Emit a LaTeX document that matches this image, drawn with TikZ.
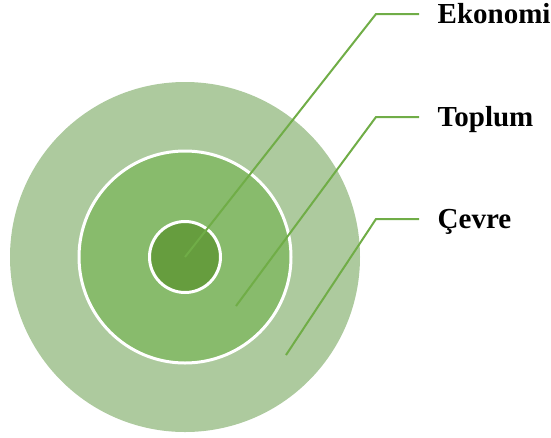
\documentclass[tikz,border=0pt]{standalone}
\usepackage{fontspec}
\setmainfont{Liberation Serif}
\definecolor{outergreen}{RGB}{173,202,158}
\definecolor{midgreen}{RGB}{136,187,108}
\definecolor{innergreen}{RGB}{102,157,62}
\definecolor{leadgreen}{RGB}{112,173,71}
\tikzset{ring/.style = {draw=white, line width=3pt}}
\tikzset{lead/.style = {draw=leadgreen, line width=2pt}}
\tikzset{tag/.style = {anchor=west, inner xsep=18.5pt, inner ysep=0pt, text height=19pt, text depth=0pt,
                       font=\fontsize{29}{30}\selectfont\bfseries}}

\begin{document}
\begin{tikzpicture}[x=1pt, y=-1pt]
      \useasboundingbox (0,0) rectangle (551,437);
      \fill [outergreen] (185,257) circle (175);
      \filldraw [ring, fill=midgreen] (185,257) circle (106);
      \filldraw [ring, fill=innergreen] (185,257) circle (35.5);
      \coordinate (ekodot) at (185,257);
      \coordinate (topdot) at (236,306);
      \coordinate (cevdot) at (286,355);
      \coordinate (ekoknee) at (376,14);
      \coordinate (topknee) at (376,117);
      \coordinate (cevknee) at (376,219);
      \node [tag] (eko) at (419,14) {Ekonomi};
      \node [tag] (top) at (419,117) {Toplum};
      \node [tag] (cev) at (419,219) {Çevre};
      \draw [lead] (ekodot) -- (ekoknee) -- (eko.west);
      \draw [lead] (topdot) -- (topknee) -- (top.west);
      \draw [lead] (cevdot) -- (cevknee) -- (cev.west);
    \end{tikzpicture}
\end{document}
